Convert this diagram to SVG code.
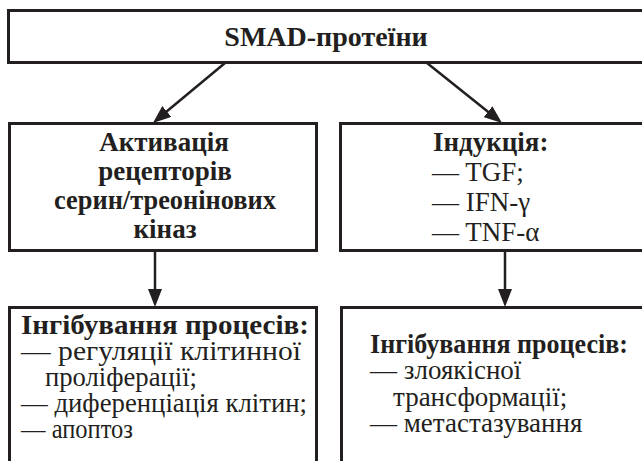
<svg xmlns="http://www.w3.org/2000/svg" width="642" height="461" viewBox="0 0 642 461">
<style>
.box{fill:#fff;stroke:#231f20;stroke-width:3}
text{font-family:"Liberation Serif","Times New Roman",serif;font-size:27px;fill:#231f20}
.b{font-weight:bold}
.c{text-anchor:middle}
.ln{stroke:#231f20;stroke-width:2.5;fill:none}
</style>
<defs>
<marker id="ah" viewBox="0 0 18 14" refX="10" refY="7" markerWidth="18" markerHeight="14" markerUnits="userSpaceOnUse" orient="auto">
<path d="M0,0 L18,7 L0,14 z" fill="#231f20"/>
</marker>
</defs>
<rect width="642" height="461" fill="#fff"/>
<g id="n-smad">
<rect class="box" x="8.5" y="10.5" width="640" height="52"/>
<text class="b c" x="326" y="46" style="font-size:28px">SMAD-протеїни</text>
</g>
<g id="n-activ">
<rect class="box" x="9.5" y="123.5" width="307" height="127"/>
<text class="b c" x="164" y="151">Активація</text>
<text class="b c" x="165" y="180">рецепторів</text>
<text class="b c" x="165" y="209" textLength="222" lengthAdjust="spacingAndGlyphs">серин/треонінових</text>
<text class="b c" x="165" y="238">кіназ</text>
</g>
<g id="n-induk">
<rect class="box" x="340.5" y="123.5" width="310" height="127"/>
<text class="b" x="433" y="151">Індукція:</text>
<text x="432" y="181">— TGF;</text>
<text x="432" y="211">— IFN-γ</text>
<text x="432" y="241">— TNF-α</text>
</g>
<g id="n-inhib1">
<path class="box" d="M9.5,470 V307.5 H316.5 V470"/>
<text class="b" x="21" y="334" textLength="288" lengthAdjust="spacingAndGlyphs">Інгібування процесів:</text>
<text x="21" y="360" textLength="280" lengthAdjust="spacingAndGlyphs">— регуляції клітинної</text>
<text x="45" y="386" textLength="152" lengthAdjust="spacingAndGlyphs">проліферації;</text>
<text x="21" y="412" textLength="286" lengthAdjust="spacingAndGlyphs">— диференціація клітин;</text>
<text x="21" y="438" textLength="112" lengthAdjust="spacingAndGlyphs">— апоптоз</text>
</g>
<g id="n-inhib2">
<path class="box" d="M341.5,470 V307.5 H650"/>
<text class="b" x="370" y="353" textLength="258" lengthAdjust="spacingAndGlyphs">Інгібування процесів:</text>
<text x="370" y="379">— злоякісної</text>
<text x="393" y="406">трансформації;</text>
<text x="370" y="432">— метастазування</text>
</g>
<g id="connectors">
<line class="ln" x1="225" y1="63" x2="159.1" y2="117.8" marker-end="url(#ah)"/>
<line class="ln" x1="427" y1="63" x2="495.8" y2="118" marker-end="url(#ah)"/>
<line class="ln" x1="155" y1="252" x2="155" y2="299" marker-end="url(#ah)"/>
<line class="ln" x1="505" y1="252" x2="505" y2="299" marker-end="url(#ah)"/>
</g>
</svg>
